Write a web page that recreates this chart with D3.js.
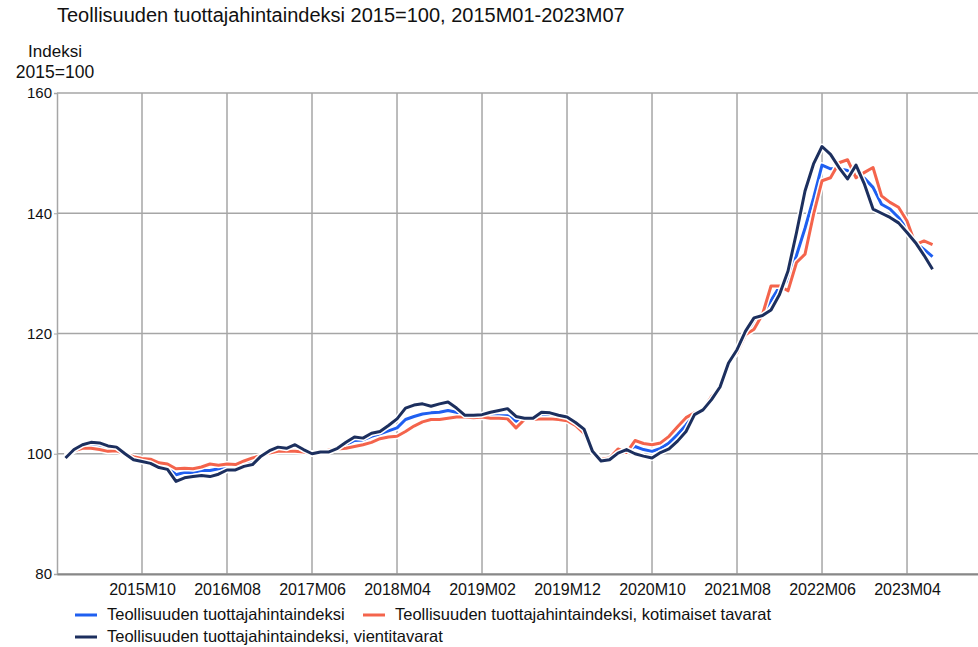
<!DOCTYPE html>
<html>
<head>
<meta charset="utf-8">
<script src="https://cdn.jsdelivr.net/npm/d3@7"></script>
<style>
  body { margin: 0; background: #fff; }
  text { font-family: "Liberation Sans", Arial, sans-serif; fill: #111; }
</style>
</head>
<body>
<script>
// kuukaudet 2015M01 - 2023M07
const months = [];
for (let y = 2015; y <= 2023; y++) {
  for (let m = 1; m <= 12; m++) {
    if (y === 2023 && m > 7) break;
    months.push(y + "M" + String(m).padStart(2, "0"));
  }
}

const xTicks = ["2015M10", "2016M08", "2017M06", "2018M04", "2019M02",
  "2019M12", "2020M10", "2021M08", "2022M06", "2023M04"];
const yTicks = [80, 100, 120, 140, 160];

// Teollisuuden tuottajahintaindeksi
const total = [
  99.5, 100.6, 101.2, 101.5, 101.4, 101.0, 100.9, 100.1, 99.2, 98.9,
  98.6, 98.1, 97.9, 96.5, 96.9, 96.9, 97.2, 97.2, 97.5, 97.8,
  97.6, 98.2, 98.6, 99.6, 100.4, 100.8, 100.6, 100.6, 100.5, 100.0,
  100.4, 100.4, 100.8, 101.5, 102.2, 102.3, 102.9, 103.3, 103.8, 104.3,
  105.7, 106.2, 106.6, 106.8, 106.9, 107.2, 106.9, 106.4, 106.4, 106.4,
  106.3, 106.3, 106.3, 105.4, 105.9, 105.9, 106.4, 106.2, 106.1, 105.8,
  104.9, 103.8, 100.4, 98.9, 99.1, 100.5, 100.7, 101.2, 100.7, 100.4,
  100.9, 101.8, 103.2, 104.8, 106.8, 107.3, 109.3, 111.0, 115.1, 117.0,
  120.1, 121.8, 123.4, 125.5, 127.8, 128.8, 133.0, 137.5, 142.5, 148.0,
  147.4, 147.4, 147.1, 146.5, 145.8, 144.3, 141.5, 140.7, 139.3, 137.3,
  135.1, 134.0, 132.8
];

// kotimaiset tavarat
const domestic = [
  99.6, 100.5, 100.9, 100.9, 100.7, 100.4, 100.5, 100.0, 99.5, 99.2,
  99.1, 98.5, 98.3, 97.5, 97.6, 97.5, 97.8, 98.3, 98.1, 98.3,
  98.2, 98.8, 99.3, 99.7, 100.1, 100.4, 100.4, 100.4, 100.3, 100.0,
  100.4, 100.6, 100.8, 100.9, 101.2, 101.5, 101.9, 102.5, 102.8, 102.9,
  103.7, 104.6, 105.3, 105.7, 105.7, 105.9, 106.1, 106.1, 106.0, 106.1,
  105.9, 105.9, 105.8, 104.3, 105.7, 105.7, 105.8, 105.8, 105.7, 105.5,
  104.7, 103.4, 100.4, 99.1, 99.3, 100.8, 100.2, 102.2, 101.7, 101.5,
  101.8, 102.9, 104.5, 106.0, 106.8, 107.3, 109.5, 111.0, 115.3, 116.8,
  119.8, 120.7, 123.2, 127.9, 127.9, 127.1, 131.8, 133.2, 139.8, 145.4,
  145.9, 148.4, 148.9, 145.9, 146.8, 147.6, 142.9, 141.8, 141.0, 138.7,
  134.8, 135.4, 134.8
];

// vientitavarat
const exports = [
  99.3, 100.7, 101.5, 101.9, 101.8, 101.3, 101.1, 100.0, 99.0, 98.7,
  98.4, 97.7, 97.4, 95.4, 96.0, 96.2, 96.4, 96.2, 96.6, 97.3,
  97.3, 97.9, 98.2, 99.6, 100.5, 101.1, 100.9, 101.5, 100.7, 100.0,
  100.3, 100.3, 100.9, 101.9, 102.8, 102.6, 103.4, 103.7, 104.7, 105.8,
  107.6, 108.1, 108.3, 107.9, 108.3, 108.6, 107.6, 106.4, 106.4, 106.5,
  106.9, 107.2, 107.5, 106.2, 105.9, 105.9, 106.9, 106.8, 106.4, 106.1,
  105.2, 104.1, 100.4, 98.8, 99.0, 100.1, 100.7, 100.0, 99.6, 99.3,
  100.2, 100.8, 102.1, 103.7, 106.5, 107.3, 109.0, 111.1, 115.1, 117.3,
  120.4, 122.6, 123.0, 123.9, 126.5, 130.4, 136.8, 143.7, 148.2, 151.1,
  149.8, 147.6, 145.7, 148.0, 144.8, 140.7, 140.0, 139.3, 138.4, 136.8,
  135.1, 133.0, 130.7
];

const seriesNames = [
  "Teollisuuden tuottajahintaindeksi",
  "Teollisuuden tuottajahintaindeksi, kotimaiset tavarat",
  "Teollisuuden tuottajahintaindeksi, vientitavarat"
];
const seriesColors = ["#1f5ff0", "#f4644c", "#1c2f5e"];
const seriesValues = [total, domestic, exports];

const svg = d3.select("body")
  .append("svg")
  .attr("width", 978)
  .attr("height", 647);

const x = d3.scaleLinear().domain([-1, 107.35]).range([57, 978]);
const y = d3.scaleLinear().domain([80, 160]).range([574, 93]);

// otsikko
svg.append("text")
  .attr("x", 57)
  .attr("y", 22)
  .attr("font-size", 20)
  .text("Teollisuuden tuottajahintaindeksi 2015=100, 2015M01-2023M07");

svg.append("text")
  .attr("x", 55)
  .attr("y", 57)
  .attr("text-anchor", "middle")
  .attr("font-size", 17)
  .text("Indeksi");
svg.append("text")
  .attr("x", 55)
  .attr("y", 78)
  .attr("text-anchor", "middle")
  .attr("font-size", 17.5)
  .text("2015=100");

// ruudukko
svg.append("g")
  .selectAll("line")
  .data(yTicks)
  .join("line")
  .attr("x1", 57)
  .attr("x2", 978)
  .attr("y1", d => y(d))
  .attr("y2", d => y(d))
  .attr("stroke", "#a6a6a6")
  .attr("stroke-width", 1.5);

svg.append("g")
  .selectAll("line")
  .data(xTicks)
  .join("line")
  .attr("x1", d => x(months.indexOf(d)))
  .attr("x2", d => x(months.indexOf(d)))
  .attr("y1", 93)
  .attr("y2", 574)
  .attr("stroke", "#a6a6a6")
  .attr("stroke-width", 1.5);

// akselit
const yAxis = svg.append("g")
  .attr("transform", "translate(57,0)")
  .call(d3.axisLeft(y).tickValues(yTicks).tickSize(3).tickPadding(2));
yAxis.select(".domain").attr("stroke", "#a6a6a6").attr("stroke-width", 1.5);
yAxis.selectAll(".tick line").attr("stroke", "#a6a6a6");
yAxis.selectAll("text").attr("font-size", 15).attr("font-family", null);

const xAxis = svg.append("g")
  .attr("transform", "translate(0,574)")
  .call(d3.axisBottom(x)
    .tickValues(xTicks.map(d => months.indexOf(d)))
    .tickFormat(i => months[i])
    .tickSize(0)
    .tickPadding(10));
xAxis.select(".domain").attr("stroke", "#888").attr("stroke-width", 2);
xAxis.selectAll("text").attr("font-size", 16).attr("font-family", null);

// viivat
const line = d3.line()
  .x((d, i) => x(i))
  .y(d => y(d));

seriesValues.forEach((vals, k) => {
  svg.append("path")
    .datum(vals)
    .attr("fill", "none")
    .attr("stroke", "#fff")
    .attr("stroke-width", 6)
    .attr("stroke-linejoin", "round")
    .attr("d", line);
  svg.append("path")
    .datum(vals)
    .attr("fill", "none")
    .attr("stroke", seriesColors[k])
    .attr("stroke-width", 3)
    .attr("stroke-linejoin", "round")
    .attr("d", line);
});

// selite
const legendPos = [[75, 615], [363, 615], [75, 637]];
const legend = svg.append("g")
  .selectAll("g")
  .data(seriesNames)
  .join("g")
  .attr("transform", (d, i) => `translate(${legendPos[i][0]},${legendPos[i][1]})`);
legend.append("line")
  .attr("x1", 0)
  .attr("x2", 22)
  .attr("stroke", (d, i) => seriesColors[i])
  .attr("stroke-width", 3);
legend.append("text")
  .attr("x", 32)
  .attr("y", 5)
  .attr("font-size", 16.5)
  .text(d => d);
</script>
</body>
</html>
